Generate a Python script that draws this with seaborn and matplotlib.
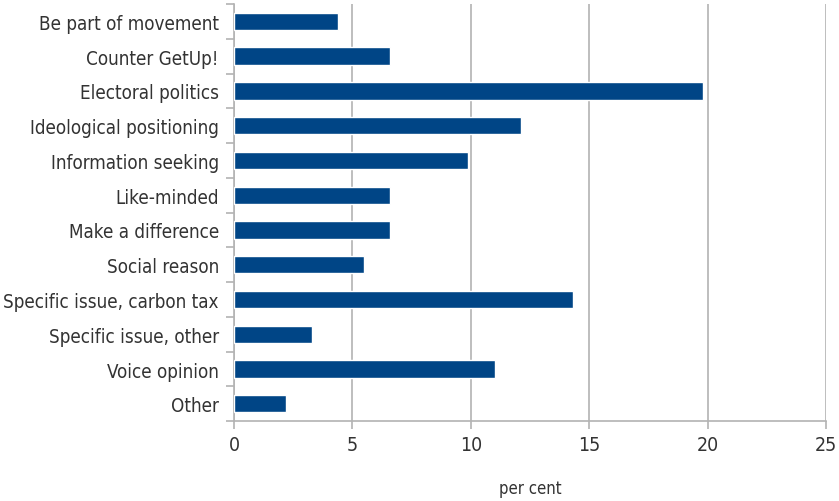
import numpy as np
import pandas as pd
import seaborn as sns
import matplotlib.pyplot as plt
from matplotlib.ticker import FixedLocator, NullFormatter

categorias = ['Be part of movement', 'Counter GetUp!', 'Electoral politics',
              'Ideological positioning', 'Information seeking', 'Like-minded',
              'Make a difference', 'Social reason', 'Specific issue, carbon tax',
              'Specific issue, other', 'Voice opinion', 'Other']
valores = [4.4, 6.6, 19.8, 12.1, 9.9, 6.6, 6.6, 5.5, 14.3, 3.3, 11.0, 2.2]

dados = pd.DataFrame({'categoria': categorias, 'valor': valores})

sns.set_style('white')
plt.rcParams['font.family'] = ['DejaVu Sans']
plt.rcParams['font.stretch'] = 'condensed'

fig = plt.figure(figsize=(8.39, 5.02), dpi=100)
ax = fig.add_axes([0.279, 0.159, 0.7055, 0.831])

sns.barplot(data=dados, y='categoria', x='valor', color='#004586', saturation=1,
            width=0.5, ax=ax, zorder=3)

cinza = '#b3b3b3'
ax.set_xlim(0, 25)
ax.set_ylim(len(categorias) - 0.5, -0.5)
ax.set_xticks([0, 5, 10, 15, 20, 25])
ax.grid(axis='x', color=cinza, linewidth=1.2, zorder=0)
ax.grid(axis='y', visible=False)

for s in ['top', 'right']:
    ax.spines[s].set_visible(False)
for s in ['left', 'bottom']:
    ax.spines[s].set_color(cinza)
    ax.spines[s].set_linewidth(1.2)

ax.yaxis.set_major_locator(FixedLocator(range(len(categorias))))
ax.yaxis.set_minor_locator(FixedLocator(np.arange(-0.5, len(categorias), 1)))
ax.yaxis.set_minor_formatter(NullFormatter())
ax.tick_params(axis='y', which='major', length=0, pad=11, labelsize=13.5, labelcolor='#333333')
ax.tick_params(axis='y', which='minor', length=6, color=cinza, width=1.2, left=True)
ax.tick_params(axis='x', length=6, color=cinza, width=1.2, bottom=True, pad=4,
               labelsize=14, labelcolor='#333333')

ax.set_ylabel('')
ax.set_xlabel('per cent', fontsize=12, color='#333333', labelpad=18)

plt.savefig('out.png', dpi=100)
